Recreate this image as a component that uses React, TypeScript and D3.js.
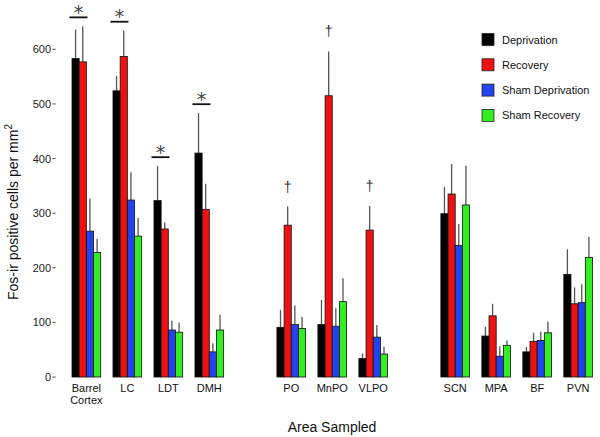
import React, { useEffect, useRef } from 'react';
import * as d3 from 'd3';

const areas = ['Barrel Cortex', 'LC', 'LDT', 'DMH', 'PO', 'MnPO', 'VLPO', 'SCN', 'MPA', 'BF', 'PVN'];
const series = ['Deprivation', 'Recovery', 'Sham Deprivation', 'Sham Recovery'];
const colors = ['#000000', '#ee1111', '#2244ee', '#33ee22'];

const deprivation = [583, 524, 323, 410, 91, 96, 34, 299, 75, 46, 188];
const recovery = [577, 587, 271, 307, 278, 515, 269, 335, 112, 65, 134];
const shamDeprivation = [267, 324, 86, 46, 96, 93, 73, 241, 38, 67, 136];
const shamRecovery = [228, 258, 82, 86, 89, 138, 42, 315, 58, 81, 219];

const deprivationErr = [53, 27, 63, 73, 32, 45, 9, 49, 17, 9, 46];
const recoveryErr = [65, 47, 12, 47, 34, 81, 44, 55, 22, 16, 30];
const shamDeprivationErr = [60, 51, 17, 16, 35, 33, 22, 39, 18, 16, 34];
const shamRecoveryErr = [25, 33, 18, 28, 21, 43, 14, 72, 9, 20, 38];

const yTicks = [0, 100, 200, 300, 400, 500, 600];
// deprivation vs recovery (*) and recovery vs the rest (†)
const asteriskAreas = ['Barrel Cortex', 'LC', 'LDT', 'DMH'];
const daggerAreas = ['PO', 'MnPO', 'VLPO'];

export default function App() {
  const ref = useRef(null);

  function drawChart() {
    const values = [deprivation, recovery, shamDeprivation, shamRecovery];
    const errors = [deprivationErr, recoveryErr, shamDeprivationErr, shamRecoveryErr];
    const font = 'Liberation Sans, Arial, Helvetica, sans-serif';

    const svg = d3.select(ref.current);
    svg.selectAll('*').remove();

    // gaps between the three groups of areas
    const slots = [...areas.slice(0, 4), 'gap1', ...areas.slice(4, 7), 'gap2', ...areas.slice(7)];
    const x = d3
      .scaleBand()
      .domain(slots)
      .range([72, 592.5])
      .paddingInner(0.3)
      .paddingOuter(0);
    const xSub = d3
      .scaleBand()
      .domain(series)
      .range([0, x.bandwidth()]);
    const y = d3.scaleLinear().domain([0, 600]).range([377, 49.3]);

    // y axis: labels with a short tick, no axis line
    const yAxis = svg.append('g');
    yAxis
      .selectAll('text')
      .data(yTicks)
      .join('text')
      .attr('x', 51)
      .attr('y', d => y(d) + 4)
      .attr('text-anchor', 'end')
      .attr('font-family', font)
      .attr('font-size', 11)
      .attr('fill', '#222')
      .text(d => d);
    yAxis
      .selectAll('line')
      .data(yTicks)
      .join('line')
      .attr('x1', 52.5)
      .attr('x2', 55.5)
      .attr('y1', d => y(d))
      .attr('y2', d => y(d))
      .attr('stroke', '#444')
      .attr('stroke-width', 1);

    const yLabel = svg
      .append('text')
      .attr('transform', 'translate(17.5, 212) rotate(-90)')
      .attr('text-anchor', 'middle')
      .attr('font-family', font)
      .attr('font-size', 14)
      .attr('fill', '#111');
    yLabel.append('tspan').text('Fos-ir positive cells per mm');
    yLabel
      .append('tspan')
      .attr('dy', -6)
      .attr('font-size', 10)
      .text('2');

    // bars
    const groups = svg
      .selectAll('.area')
      .data(areas)
      .join('g')
      .attr('class', 'area')
      .attr('transform', d => `translate(${x(d)}, 0)`);

    groups.each(function(area, i) {
      const g = d3.select(this);
      const rows = series.map((s, k) => ({ s, k, v: values[k][i], e: errors[k][i] }));
      g.selectAll('.err')
        .data(rows)
        .join('line')
        .attr('class', 'err')
        .attr('x1', d => xSub(d.s) + xSub.bandwidth() / 2)
        .attr('x2', d => xSub(d.s) + xSub.bandwidth() / 2)
        .attr('y1', d => y(d.v))
        .attr('y2', d => y(d.v + d.e))
        .attr('stroke', '#555')
        .attr('stroke-width', 1.3);
      g.selectAll('.bar')
        .data(rows)
        .join('rect')
        .attr('class', 'bar')
        .attr('x', d => xSub(d.s))
        .attr('width', xSub.bandwidth())
        .attr('y', d => y(d.v))
        .attr('height', d => y(0) - y(d.v))
        .attr('fill', d => colors[d.k])
        .attr('stroke', '#111')
        .attr('stroke-width', 0.8);
    });

    // x labels
    const labels = svg
      .selectAll('.xlabel')
      .data(areas)
      .join('text')
      .attr('class', 'xlabel')
      .attr('text-anchor', 'middle')
      .attr('font-family', font)
      .attr('font-size', 11)
      .attr('fill', '#111');
    labels
      .selectAll('tspan')
      .data(d => d.split(' ').map(w => ({ w, area: d })))
      .join('tspan')
      .attr('x', d => x(d.area) + x.bandwidth() / 2)
      .attr('y', (d, j) => 391.5 + j * 12)
      .text(d => d.w);

    svg
      .append('text')
      .attr('x', 332)
      .attr('y', 432)
      .attr('text-anchor', 'middle')
      .attr('font-family', font)
      .attr('font-size', 14)
      .attr('fill', '#111')
      .text('Area Sampled');

    // significance marks
    asteriskAreas.forEach(area => {
      const i = areas.indexOf(area);
      const top = d3.max([0, 1], k => values[k][i] + errors[k][i]);
      const ly = y(top) - 9;
      const x0 = x(area) - 2.5;
      const x1 = x(area) + 15.5;
      svg
        .append('line')
        .attr('x1', x0)
        .attr('x2', x1)
        .attr('y1', ly)
        .attr('y2', ly)
        .attr('stroke', '#111')
        .attr('stroke-width', 1.8);
      svg
        .append('text')
        .attr('x', (x0 + x1) / 2)
        .attr('y', ly + 1.5)
        .attr('text-anchor', 'middle')
        .attr('font-family', 'DejaVu Sans, sans-serif')
        .attr('font-size', 19)
        .attr('fill', '#444')
        .text('*');
    });

    daggerAreas.forEach(area => {
      const i = areas.indexOf(area);
      svg
        .append('text')
        .attr('x', x(area) + xSub('Recovery') + xSub.bandwidth() / 2)
        .attr('y', y(recovery[i] + recoveryErr[i]) - 15)
        .attr('text-anchor', 'middle')
        .attr('font-family', font)
        .attr('font-size', 14)
        .attr('fill', '#333')
        .text('†');
    });

    // legend
    const legend = svg
      .selectAll('.legend')
      .data(series)
      .join('g')
      .attr('class', 'legend')
      .attr('transform', (d, k) => `translate(482, ${33.5 + k * 25.3})`);
    legend
      .append('rect')
      .attr('width', 12)
      .attr('height', 12)
      .attr('fill', (d, k) => colors[k])
      .attr('stroke', '#222')
      .attr('stroke-width', 0.8);
    legend
      .append('text')
      .attr('x', 20)
      .attr('y', 10)
      .attr('font-family', font)
      .attr('font-size', 11)
      .attr('fill', '#111')
      .text(d => d);
  }

  useEffect(() => drawChart(), []);
  return (
    <svg
      ref={ref}
      width={600}
      height={437}
      style={{ position: 'absolute', left: 0, top: 0, background: '#fff' }}
    />
  );
}
